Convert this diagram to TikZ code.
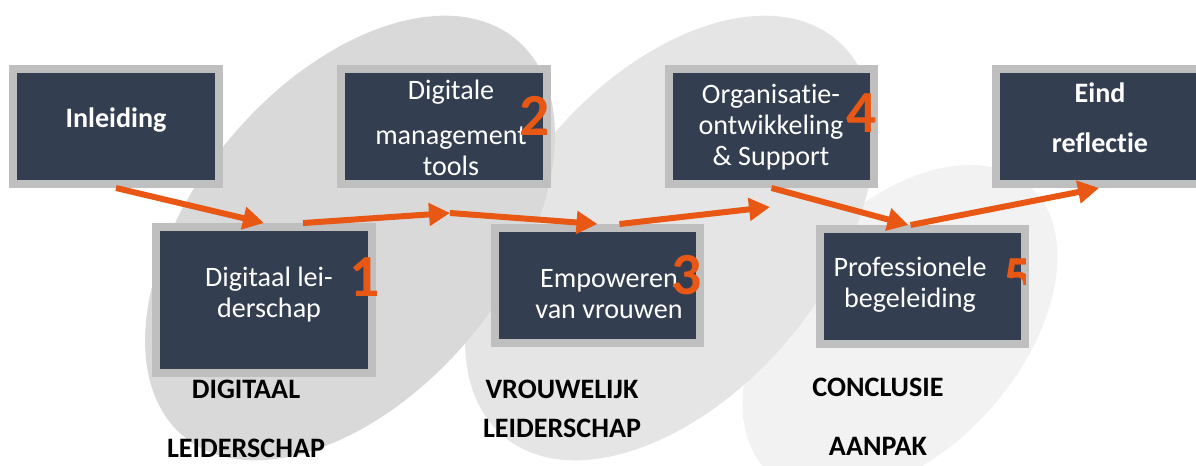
\documentclass[tikz,border=0pt]{standalone}
\usepackage{fontspec}
\setmainfont{Carlito}[Ligatures=CommonOff]
\usetikzlibrary{calc, arrows.meta}

\definecolor{slate}{HTML}{333F50}
\definecolor{frame}{HTML}{BFBFBF}
\definecolor{flow}{HTML}{E85714}
\definecolor{blobA}{HTML}{D9D9D9}
\definecolor{blobB}{HTML}{E5E5E5}
\definecolor{blobC}{HTML}{F2F2F2}

\begin{document}
\begin{tikzpicture}[x=0.02cm, y=-0.02cm,
    stage/.style={draw=frame, line width=0.16cm, fill=slate, minimum width=4.12cm, minimum height=2.3cm, inner sep=0pt},
    stagetext/.style={text=white, align=center, anchor=base, inner sep=0pt, font=\fontsize{16}{17.5}\selectfont},
    boldtext/.style={stagetext, font=\bfseries\fontsize{16}{17.5}\selectfont},
    digit/.style={text=flow, inner sep=0pt, font=\bfseries\fontsize{34}{34}\selectfont},
    theme/.style={align=center, anchor=base, inner sep=0pt, font=\bfseries\fontsize{16}{17.5}\selectfont},
    flowline/.style={draw=flow, line width=0.12cm, -{Triangle[length=0.42cm, width=0.44cm]}}]

    \useasboundingbox (0,0) rectangle (1196,466);
    \clip (0,0) rectangle (1196,466);

    % grey blobs behind the steps
    \fill[blobC] (900,330) ellipse [x radius=3.88cm, y radius=2.4cm, rotate=48];
    \fill[blobB] (670,238) ellipse [x radius=5.18cm, y radius=3.12cm, rotate=50];
    \fill[blobA] (350,238) ellipse [x radius=5.18cm, y radius=3.12cm, rotate=50];

    \coordinate (bend1) at (450,213);
    \coordinate (bend2) at (770,207);

    % steps
    \node[stage] (intro) at (116,126.5) {};
    \node[stage] (tools) at (444,126.5) {};
    \node[stage] (orga) at (771.5,126.5) {};
    \node[stage] (final) at (1099,126.5) {};
    \node[stage, minimum width=4.32cm, minimum height=2.92cm] (lead) at (264,300) {};
    \node[stage] (power) at (597.5,285.5) {};
    \node[stage] (coach) at (922.5,286.5) {};

    % texts sit on the baseline of their last line
    \node[boldtext] (introtext) at (116,128) {Inleiding};
    \node[stagetext] (toolstext) at (451,175) {Digitale\\[8pt]management\\tools};
    \node[stagetext] (orgatext) at (771,165) {Organisatie-\\ontwikkeling\\\& Support};
    \node[boldtext] (finaltext) at (1100,153) {Eind\\[11.5pt]reflectie};
    \node[stagetext] (leadtext) at (269,317) {Digitaal lei-\\derschap};
    \node[stagetext] (powertext) at (609,318) {Empoweren\\van vrouwen};
    \node[stagetext] (coachtext) at (910,307) {Professionele\\begeleiding};

    % arrows
    \draw[flowline] (intro.south) -- (lead.north);
    \draw[flowline] ($(lead.north)+(39,0)$) -- (bend1);
    \draw[flowline] (bend1) -- (power.north);
    \draw[flowline] ($(power.north)+(22,0)$) -- (bend2);
    \draw[flowline] (orga.south) -- ($(coach.north)+(-14,0)$);
    \draw[flowline] ($(coach.north)+(-12,0)$) -- (final.south);

    % numbers
    \node[digit] (n1) at (365,277) {1};
    \node[digit] (n2) at (535,116) {2};
    \node[digit] (n3) at (687,275) {3};
    \node[digit] (n4) at (862,113) {4};
    \begin{scope}
        \clip (995,250) rectangle (1025,284);
        \node[digit] (n5) at (1019,278) {5};
    \end{scope}

    % themes
    \node[theme] (digi) at (246,457) {DIGITAAL\\[16pt]LEIDERSCHAP};
    \node[theme] (women) at (562,437) {VROUWELIJK\\[4.5pt]LEIDERSCHAP};
    \node[theme] (concl) at (878,455) {CONCLUSIE\\[16pt]AANPAK};
\end{tikzpicture}
\end{document}
